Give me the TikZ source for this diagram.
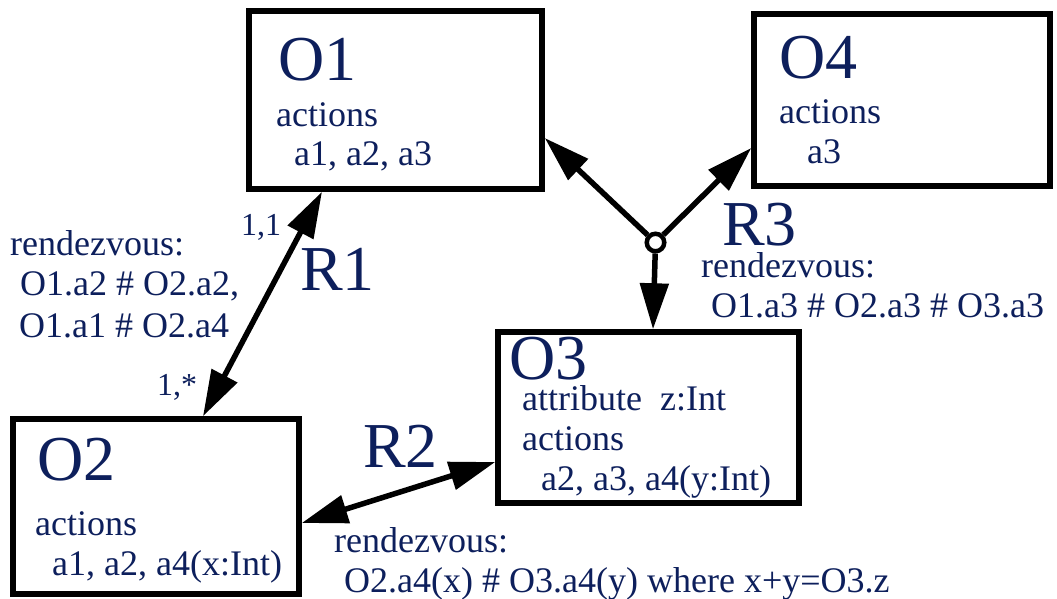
\documentclass[tikz,border=0pt]{standalone}
\usepackage{fontspec}
\setmainfont{Liberation Serif}
\usetikzlibrary{arrows.meta}
\definecolor{navy}{RGB}{13,31,92}
\begin{document}
\begin{tikzpicture}[x=1pt,y=-1pt,
  box/.style={draw=black, line width=5.5pt, inner sep=0pt},
  big/.style={text=navy, font=\fontsize{64}{70}\selectfont, anchor=base west, inner sep=0pt},
  small/.style={text=navy, font=\fontsize{36}{40}\selectfont, anchor=base west, inner sep=0pt},
  mult/.style={text=navy, font=\fontsize{32}{36}\selectfont, anchor=base west, inner sep=0pt},
  tipshape/.tip={Triangle[length=46pt, width=28pt]},
  dbl/.style={line width=5.5pt, tipshape-tipshape},
  sgl/.style={line width=5.5pt, -tipshape},
  hubstyle/.style={circle, draw=black, fill=white, line width=4.5pt, minimum size=17.5pt, inner sep=0pt}
]
\useasboundingbox (0,0) rectangle (1057,598);

% boxes
\node[box, minimum width=293pt, minimum height=178pt] (o1) at (395.5,100) {};
\node[box, minimum width=296pt, minimum height=172pt] (o4) at (902,100) {};
\node[box, minimum width=286pt, minimum height=175pt] (o2) at (156,506.5) {};
\node[box, minimum width=301pt, minimum height=171pt] (o3) at (648.5,417.5) {};

% box texts
\node[big] (o1n) at (278,80) {O1};
\node[small] (o1a) at (276,126) {actions};
\node[small] (o1b) at (294,165) {a1, a2, a3};

\node[big] (o4n) at (779,78) {O4};
\node[small] (o4a) at (779,123) {actions};
\node[small] (o4b) at (807,163) {a3};

\node[big] (o2n) at (37,480) {O2};
\node[small] (o2a) at (35,535) {actions};
\node[small] (o2b) at (52,575) {a1, a2, a4(x:Int)};

\node[big] (o3n) at (509,379) {O3};
\node[small] (o3t) at (522,410) {attribute\ \ z:Int};
\node[small] (o3a) at (522,450) {actions};
\node[small] (o3b) at (541,490) {a2, a3, a4(y:Int)};

% hub
\node[hubstyle] (hub) at (655.5,242.5) {};

% connectors
\draw[dbl] ([xshift=-73.5pt]o1.south) -- ([xshift=47pt]o2.north);
\draw[dbl] ([yshift=-16.5pt]o2.east) -- ([yshift=-44.5pt]o3.west);
\draw[sgl] (hub) -- ([yshift=-38pt]o1.east);
\draw[sgl] (hub) -- ([yshift=-48pt]o4.west);
\draw[sgl] (hub) -- ([xshift=4.5pt]o3.north);

% relation labels
\node[big] (r1) at (300,290) {R1};
\node[big] (r2) at (363,467) {R2};
\node[big] (r3) at (722,245) {R3};

\node[mult] (m11) at (241,235) {1,1};
\node[mult] (m1s) at (157,395) {1,*};

\node[small] (l1a) at (10,255) {rendezvous:};
\node[small] (l1b) at (20,295) {O1.a2 \# O2.a2,};
\node[small] (l1c) at (19,337) {O1.a1 \# O2.a4};

\node[small] (l3a) at (701,277) {rendezvous:};
\node[small] (l3b) at (711,317) {O1.a3 \# O2.a3 \# O3.a3};

\node[small] (l2a) at (334,552) {rendezvous:};
\node[small] (l2b) at (344,592) {O2.a4(x) \# O3.a4(y) where x+y=O3.z};
\end{tikzpicture}
\end{document}
